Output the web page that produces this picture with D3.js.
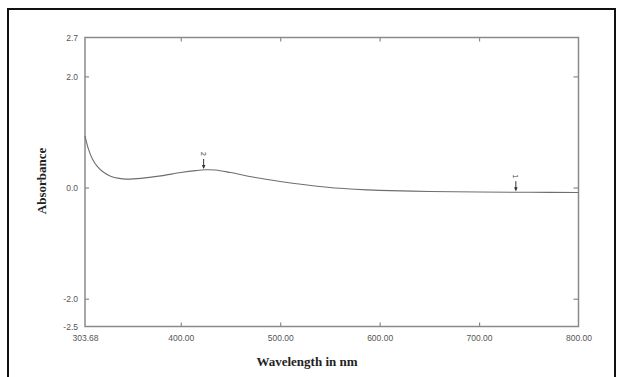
<!DOCTYPE html>
<html>
<head>
<meta charset="utf-8">
<script src="https://cdn.jsdelivr.net/npm/d3@7"></script>
<style>
  body { margin: 0; background: #fff; }
  .tick text { font-family: "Liberation Sans", Arial, sans-serif; font-size: 8.5px; fill: #555; }
  .axis-title { font-family: "Liberation Serif", "Times New Roman", serif; font-weight: bold; fill: #222; }
</style>
</head>
<body>
<div class="chart"></div>
<script>
// spectrum
const wavelengths = [303.68, 307, 311, 316, 322, 330, 338, 345, 360, 380, 400, 415, 425, 435, 450, 475, 500, 525, 550, 575, 600, 650, 700, 750, 800];
const absorbance = [0.93, 0.70, 0.52, 0.38, 0.28, 0.20, 0.165, 0.152, 0.165, 0.21, 0.27, 0.305, 0.32, 0.315, 0.27, 0.18, 0.11, 0.05, 0.0, -0.03, -0.05, -0.07, -0.08, -0.085, -0.09];

// peak pick markers
const peakLabels = ["2", "1"];
const peakWavelengths = [423, 737];

const xTickValues = [303.68, 400, 500, 600, 700, 800];
const yTickValues = [-2.5, -2.0, 0.0, 2.0, 2.7];

const width = 621, height = 377;

const svg = d3.select(".chart")
    .append("svg")
    .attr("width", width)
    .attr("height", height);

// outer frame
svg.append("rect")
    .attr("x", 8)
    .attr("y", 9)
    .attr("width", 607)
    .attr("height", 380)
    .attr("fill", "none")
    .attr("stroke", "#111")
    .attr("stroke-width", 2);

const x = d3.scaleLinear().domain([303.68, 800]).range([85, 578.5]);
const y = d3.scaleLinear().domain([-2.5, 2.7]).range([326.5, 37.5]);

const axisColor = "#8a8a8a";

// bottom axis with labels, inward ticks
const xAxis = svg.append("g")
    .attr("transform", `translate(0, ${y(-2.5)})`)
    .call(d3.axisBottom(x).tickValues(xTickValues).tickFormat(d => d.toFixed(2)).tickSizeInner(-4).tickSizeOuter(0).tickPadding(8));
xAxis.select(".domain").remove();
xAxis.selectAll("line").attr("stroke", axisColor).attr("stroke-width", 1.2);
xAxis.selectAll(".tick").filter(d => d === 303.68 || d === 800).select("line").remove();

// top axis, ticks only
const xTop = svg.append("g")
    .attr("transform", `translate(0, ${y(2.7)})`)
    .call(d3.axisTop(x).tickValues([400, 500, 600, 700]).tickSizeInner(-4).tickSizeOuter(0).tickFormat(""));
xTop.select(".domain").remove();
xTop.selectAll("line").attr("stroke", axisColor).attr("stroke-width", 1.2);

// left axis with labels
const yAxis = svg.append("g")
    .attr("transform", `translate(${x(303.68)}, 0)`)
    .call(d3.axisLeft(y).tickValues(yTickValues).tickFormat(d => d.toFixed(1)).tickSizeInner(-4).tickSizeOuter(0).tickPadding(7));
yAxis.select(".domain").remove();
yAxis.selectAll("line").attr("stroke", axisColor).attr("stroke-width", 1.2);
yAxis.selectAll(".tick").filter(d => d === -2.5 || d === 2.7).select("line").remove();

// right axis, ticks only
const yRight = svg.append("g")
    .attr("transform", `translate(${x(800)}, 0)`)
    .call(d3.axisRight(y).tickValues([-2.0, 0.0, 2.0]).tickSizeInner(-5).tickSizeOuter(0).tickFormat(""));
yRight.select(".domain").remove();
yRight.selectAll("line").attr("stroke", axisColor).attr("stroke-width", 1.2);

// plot border
svg.append("rect")
    .attr("x", x(303.68))
    .attr("y", y(2.7))
    .attr("width", x(800) - x(303.68))
    .attr("height", y(-2.5) - y(2.7))
    .attr("fill", "none")
    .attr("stroke", axisColor)
    .attr("stroke-width", 1.5);

// spectrum line
const points = wavelengths.map((w, i) => [w, absorbance[i]]);
const line = d3.line()
    .x(d => x(d[0]))
    .y(d => y(d[1]))
    .curve(d3.curveCatmullRom.alpha(0.5));

svg.append("path")
    .datum(points)
    .attr("d", line)
    .attr("fill", "none")
    .attr("stroke", "#6e6e6e")
    .attr("stroke-width", 1.1);

// peak markers
const interp = w => {
    const i = d3.bisectLeft(wavelengths, w);
    const t = (w - wavelengths[i - 1]) / (wavelengths[i] - wavelengths[i - 1]);
    return absorbance[i - 1] + t * (absorbance[i] - absorbance[i - 1]);
};

const markers = svg.selectAll(".peak")
    .data(peakLabels)
    .join("g")
    .attr("class", "peak")
    .attr("transform", (d, i) => `translate(${x(peakWavelengths[i])}, ${y(interp(peakWavelengths[i]))})`);

markers.append("line")
    .attr("x1", 0).attr("x2", 0)
    .attr("y1", -11).attr("y2", -2)
    .attr("stroke", "#333")
    .attr("stroke-width", 1);

markers.append("path")
    .attr("d", "M-1.8,-5 L1.8,-5 L0,-1 Z")
    .attr("fill", "#333");

markers.append("text")
    .attr("transform", "translate(0, -16) rotate(90)")
    .attr("text-anchor", "middle")
    .attr("dy", "0.35em")
    .style("font-family", "Liberation Sans, Arial, sans-serif")
    .style("font-size", "7.5px")
    .style("fill", "#444")
    .text(d => d);

// axis titles
svg.append("text")
    .attr("class", "axis-title")
    .attr("x", 307)
    .attr("y", 366)
    .attr("text-anchor", "middle")
    .style("font-size", "13px")
    .text("Wavelength in nm");

svg.append("text")
    .attr("class", "axis-title")
    .attr("transform", `translate(46, 181) rotate(-90)`)
    .attr("text-anchor", "middle")
    .style("font-size", "13px")
    .text("Absorbance");
</script>
</body>
</html>
